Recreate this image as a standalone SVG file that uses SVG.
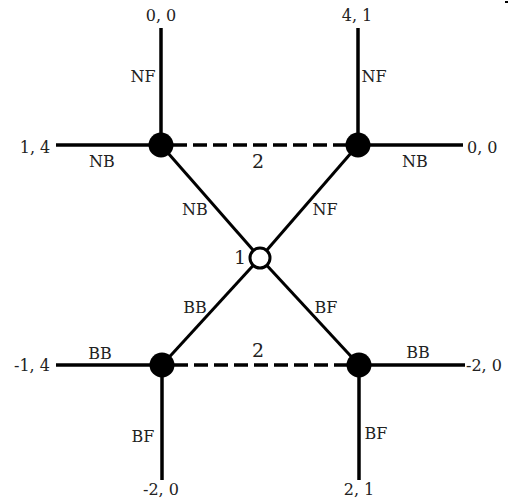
<svg xmlns="http://www.w3.org/2000/svg" width="509" height="499" viewBox="0 0 509 499">
<style>
.ln{stroke:#000;stroke-width:3.5;fill:none;stroke-linecap:butt}
.dg{stroke:#000;stroke-width:3;fill:none}
.ds{stroke:#000;stroke-width:3.5;fill:none;stroke-dasharray:14 6}
.t{font-family:"DejaVu Serif","Liberation Serif",serif;font-size:16px;fill:#222}
.n{font-family:"DejaVu Serif","Liberation Serif",serif;font-size:19px;fill:#222}
.dot{fill:#000}
.open{fill:#fff;stroke:#000;stroke-width:3}
</style>
<rect width="509" height="499" fill="#fff"/>
<rect x="505" y="1" width="3" height="2" fill="#000"/>
<g id="connectors">
<line class="ln" x1="161" y1="28" x2="161" y2="145"/>
<line class="ln" x1="56" y1="145" x2="161" y2="145"/>
<line class="ln" x1="358" y1="28" x2="358" y2="145"/>
<line class="ln" x1="358" y1="145" x2="463" y2="145"/>
<line class="ln" x1="56" y1="365" x2="162" y2="365"/>
<line class="ln" x1="162" y1="365" x2="162" y2="480"/>
<line class="ln" x1="359" y1="365" x2="465" y2="365"/>
<line class="ln" x1="359" y1="365" x2="359" y2="480"/>
<line class="dg" x1="161" y1="145" x2="260" y2="258"/>
<line class="dg" x1="358" y1="145" x2="260" y2="258"/>
<line class="dg" x1="162" y1="365" x2="260" y2="258"/>
<line class="dg" x1="359" y1="365" x2="260" y2="258"/>
<line class="ds" x1="173" y1="145" x2="346" y2="145"/>
<line class="ds" x1="174" y1="365" x2="347" y2="365"/>
<text class="n" x="258" y="168" text-anchor="middle">2</text>
<text class="n" x="258" y="357" text-anchor="middle">2</text>
<text class="t" x="143" y="82" text-anchor="middle">NF</text>
<text class="t" x="102" y="167" text-anchor="middle">NB</text>
<text class="t" x="195" y="215" text-anchor="middle">NB</text>
<text class="t" x="374" y="82" text-anchor="middle">NF</text>
<text class="t" x="415" y="167" text-anchor="middle">NB</text>
<text class="t" x="325" y="215" text-anchor="middle">NF</text>
<text class="t" x="195" y="313" text-anchor="middle">BB</text>
<text class="t" x="100" y="359" text-anchor="middle">BB</text>
<text class="t" x="143" y="442" text-anchor="middle">BF</text>
<text class="t" x="326" y="313" text-anchor="middle">BF</text>
<text class="t" x="418" y="358" text-anchor="middle">BB</text>
<text class="t" x="376" y="439" text-anchor="middle">BF</text>
</g>
<g id="n_tl"><circle class="dot" cx="161" cy="145" r="12.5"/></g>
<g id="n_tr"><circle class="dot" cx="358" cy="145" r="12.5"/></g>
<g id="n_bl"><circle class="dot" cx="162" cy="365" r="12.5"/></g>
<g id="n_br"><circle class="dot" cx="359" cy="365" r="12.5"/></g>
<g id="n_root"><circle class="open" cx="260" cy="258" r="10"/><text class="n" x="240" y="264" text-anchor="middle">1</text></g>
<g id="p1"><text class="t" x="161" y="21" text-anchor="middle">0, 0</text></g>
<g id="p2"><text class="t" x="357" y="21" text-anchor="middle">4, 1</text></g>
<g id="p3"><text class="t" x="35" y="153" text-anchor="middle">1, 4</text></g>
<g id="p4"><text class="t" x="467" y="153">0, 0</text></g>
<g id="p5"><text class="t" x="32" y="371" text-anchor="middle">-1, 4</text></g>
<g id="p6"><text class="t" x="466" y="371">-2, 0</text></g>
<g id="p7"><text class="t" x="161" y="495" text-anchor="middle">-2, 0</text></g>
<g id="p8"><text class="t" x="359" y="495" text-anchor="middle">2, 1</text></g>
</svg>
